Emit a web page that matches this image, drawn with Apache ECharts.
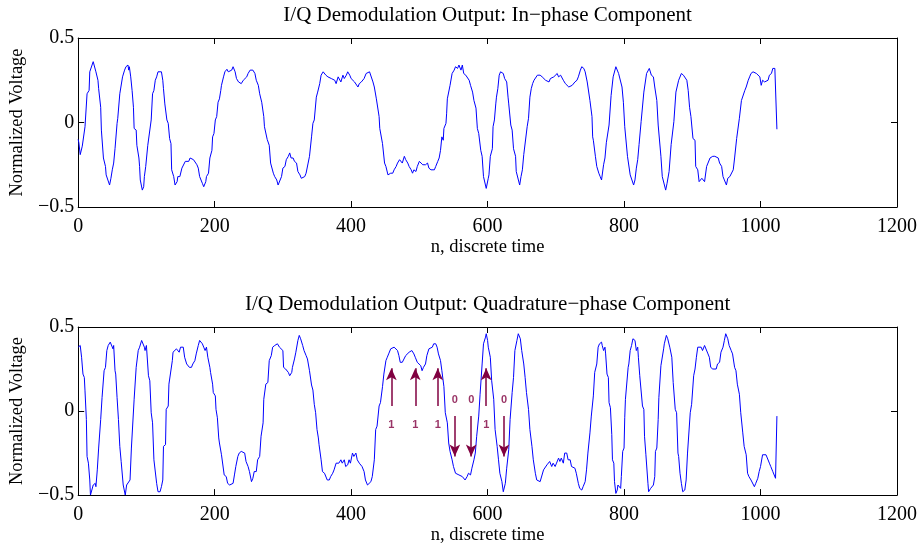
<!DOCTYPE html>
<html>
<head>
<meta charset="utf-8">
<script src="https://cdn.jsdelivr.net/npm/echarts@6/dist/echarts.min.js"></script>
<style>
  html, body { margin: 0; padding: 0; background: #fff; }
  #chart { width: 922px; height: 546px; }
</style>
</head>
<body>
<div id="chart"></div>
<script>
// In-phase branch output, [n, normalized voltage]
const inphase = [
[0,-0.10],[1,-0.12],[3,-0.19],[6,-0.14],[10,-0.025],[13,0.17],[16,0.19],[17,0.30],[19,0.31],[22,0.36],[24,0.35],[26,0.30],[29,0.25],[30,0.20],[33,0.09],[34,-0.045],[37,-0.21],[40,-0.26],[41,-0.31],[43,-0.32],[46,-0.37],[48,-0.33],[50,-0.28],[52,-0.24],[54,-0.155],[57,-0.005],[58,0.025],[61,0.17],[63,0.18],[65,0.27],[68,0.31],[70,0.33],[73,0.34],[74,0.31],[75,0.33],[77,0.27],[79,0.19],[81,0.09],[82,-0.035],[85,-0.045],[86,-0.135],[89,-0.21],[90,-0.26],[91,-0.34],[92,-0.35],[94,-0.40],[96,-0.38],[97,-0.32],[99,-0.26],[102,-0.135],[104,-0.125],[107,0.015],[108,0.025],[109,0.17],[111,0.19],[113,0.25],[115,0.27],[117,0.30],[119,0.31],[122,0.30],[124,0.25],[125,0.20],[127,0.11],[130,0.015],[132,-0.005],[134,-0.095],[136,-0.125],[137,-0.28],[140,-0.32],[142,-0.37],[145,-0.35],[146,-0.32],[148,-0.33],[149,-0.32],[152,-0.27],[154,-0.26],[157,-0.23],[159,-0.22],[162,-0.23],[164,-0.21],[166,-0.20],[169,-0.22],[171,-0.23],[174,-0.25],[176,-0.27],[178,-0.32],[180,-0.33],[182,-0.36],[184,-0.38],[187,-0.35],[188,-0.32],[191,-0.30],[193,-0.21],[196,-0.165],[197,-0.085],[199,-0.065],[201,0.015],[203,0.035],[205,0.12],[207,0.14],[209,0.19],[210,0.22],[213,0.27],[215,0.30],[218,0.315],[220,0.30],[222,0.31],[225,0.31],[227,0.33],[230,0.30],[232,0.26],[235,0.24],[237,0.25],[239,0.23],[242,0.25],[244,0.26],[247,0.27],[249,0.29],[252,0.31],[254,0.30],
[256,0.31],[259,0.29],[261,0.25],[264,0.22],[266,0.17],[269,0.12],[271,0.11],[272,0.035],[273,-0.025],[275,-0.035],[277,-0.10],[280,-0.135],[282,-0.24],[283,-0.25],[286,-0.30],[288,-0.32],[291,-0.34],[293,-0.37],[295,-0.36],[298,-0.32],[300,-0.27],[303,-0.26],[305,-0.22],[308,-0.20],[310,-0.18],[312,-0.21],[315,-0.21],[317,-0.23],[320,-0.24],[322,-0.29],[325,-0.31],[327,-0.33],[329,-0.33],[332,-0.32],[334,-0.30],[337,-0.24],[339,-0.20],[342,-0.085],[344,-0.005],[346,0.015],[349,0.15],[351,0.18],[354,0.23],[356,0.28],[359,0.30],[361,0.29],[363,0.28],[366,0.27],[368,0.27],[371,0.26],[373,0.26],[376,0.25],[378,0.23],[381,0.27],[383,0.26],[385,0.24],[388,0.28],[390,0.26],[393,0.28],[395,0.30],[398,0.28],[400,0.26],[402,0.25],[405,0.24],[407,0.23],[410,0.21],[412,0.23],[415,0.24],[417,0.24],[419,0.26],[422,0.29],[424,0.30],[427,0.30],[429,0.29],[432,0.24],[434,0.21],[437,0.14],[439,0.13],[441,0.035],[442,-0.035],[444,-0.045],[446,-0.125],[449,-0.24],[451,-0.26],[454,-0.31],[456,-0.31],[458,-0.30],[461,-0.30],[463,-0.28],[466,-0.26],[468,-0.24],[471,-0.22],[473,-0.23],[475,-0.24],[478,-0.20],[480,-0.22],[483,-0.24],[485,-0.26],[488,-0.28],[490,-0.30],[492,-0.28],[495,-0.29],[497,-0.26],[500,-0.23],[502,-0.24],[505,-0.25],[507,-0.24],[509,-0.25],
[510,-0.25],[512,-0.24],[514,-0.27],[517,-0.28],[519,-0.29],[522,-0.28],[524,-0.26],[527,-0.23],[529,-0.21],[531,-0.165],[533,-0.085],[535,-0.105],[536,-0.035],[539,-0.005],[540,0.055],[541,0.14],[543,0.14],[545,0.22],[547,0.23],[548,0.29],[551,0.31],[553,0.33],[556,0.32],[558,0.34],[561,0.31],[563,0.34],[565,0.29],[568,0.28],[570,0.27],[573,0.25],[575,0.22],[578,0.18],[580,0.13],[583,0.085],[585,-0.035],[587,-0.065],[590,-0.165],[592,-0.20],[594,-0.32],[596,-0.33],[598,-0.39],[601,-0.33],[602,-0.31],[604,-0.20],[607,-0.155],[608,-0.025],[610,0.015],[612,0.11],[613,0.15],[615,0.20],[617,0.28],[619,0.30],[621,0.31],[623,0.29],[625,0.26],[628,0.24],[630,0.15],[631,0.11],[634,-0.015],[636,-0.045],[638,-0.155],[641,-0.20],[642,-0.29],[644,-0.30],[647,-0.37],[649,-0.32],[651,-0.28],[653,-0.19],[655,-0.18],[658,-0.025],[660,0.025],[662,0.15],[664,0.20],[666,0.23],[668,0.25],[670,0.26],[673,0.28],[675,0.29],[677,0.28],[680,0.27],[682,0.26],[685,0.25],[687,0.26],[690,0.24],[692,0.26],[694,0.25],[697,0.27],[699,0.28],[702,0.29],[704,0.27],[707,0.28],[709,0.27],[711,0.25],[714,0.23],[716,0.22],[719,0.21],[721,0.21],[724,0.22],[726,0.23],[728,0.24],[731,0.25],[733,0.27],[736,0.31],[738,0.33],[741,0.32],[743,0.30],[746,0.24],[748,0.23],[750,0.13],[753,0.035],[754,-0.085],[755,-0.105],[758,-0.20],[760,-0.26],[763,-0.30],[765,-0.32],
[767,-0.34],[770,-0.25],[772,-0.21],[774,-0.12],[776,-0.13],[778,-0.015],[780,-0.025],[781,0.16],[783,0.15],[784,0.27],[786,0.27],[788,0.33],[790,0.34],[792,0.29],[794,0.28],[797,0.21],[799,0.12],[801,-0.025],[803,-0.025],[805,-0.20],[807,-0.21],[809,-0.31],[811,-0.32],[814,-0.37],[816,-0.34],[818,-0.27],[820,-0.22],[822,-0.13],[823,-0.13],[825,0.005],[827,0.015],[829,0.18],[831,0.18],[833,0.29],[835,0.30],[837,0.32],[839,0.32],[840,0.28],[843,0.27],[845,0.21],[848,0.13],[850,-0.015],[852,-0.025],[854,-0.20],[855,-0.21],[856,-0.32],[858,-0.33],[861,-0.40],[863,-0.36],[866,-0.29],[869,-0.13],[871,-0.12],[873,0.005],[874,0.015],[876,0.18],[878,0.19],[880,0.25],[882,0.26],[884,0.29],[887,0.28],[889,0.27],[892,0.25],[894,0.19],[896,0.09],[898,0.035],[900,0.025],[901,-0.095],[904,-0.105],[905,-0.26],[908,-0.28],[910,-0.35],[912,-0.34],[914,-0.33],[916,-0.33],[918,-0.35],[921,-0.26],[923,-0.24],[926,-0.21],[928,-0.21],[930,-0.20],[933,-0.20],[935,-0.19],[938,-0.21],[940,-0.24],[943,-0.26],[945,-0.32],[947,-0.34],[950,-0.37],[952,-0.33],[955,-0.32],[957,-0.31],[960,-0.28],[962,-0.21],[965,-0.095],[967,-0.085],[969,0.025],[972,0.13],[974,0.12],[977,0.19],[979,0.21],[982,0.25],[984,0.27],[986,0.29],[989,0.30],[991,0.31],[994,0.29],[996,0.30],[999,0.27],[1001,0.22],[1003,0.25],[1006,0.24],[1008,0.23],[1011,0.25],[1013,0.28],[1016,0.29],[1018,0.32],[1021,0.32],[1022,0.33],[1024,-0.04]
];

// Quadrature branch output, [n, normalized voltage]
const quadrature = [
[0,0.38],[3,0.39],[5,0.32],[7,0.22],[9,0.20],[10,0.12],[12,-0.05],[13,-0.27],[15,-0.31],[17,-0.41],[18,-0.50],[20,-0.50],[22,-0.44],[25,-0.43],[26,-0.45],[28,-0.35],[30,-0.22],[32,-0.21],[33,-0.05],[35,0.08],[37,0.09],[38,0.24],[40,0.26],[42,0.36],[44,0.39],[47,0.41],[49,0.40],[51,0.37],[52,0.39],[54,0.24],[55,0.22],[57,0.08],[59,-0.05],[61,-0.21],[63,-0.30],[65,-0.31],[66,-0.44],[69,-0.50],[71,-0.44],[73,-0.43],[76,-0.41],[78,-0.22],[80,-0.21],[82,0.07],[83,0.08],[85,0.26],[86,0.27],[88,0.36],[90,0.38],[93,0.42],[95,0.43],[97,0.38],[98,0.36],[100,0.39],[103,0.21],[105,0.18],[107,-0.01],[109,-0.07],[111,-0.29],[112,-0.29],[115,-0.43],[117,-0.48],[120,-0.48],[122,-0.45],[124,-0.41],[125,-0.21],[128,-0.20],[129,0.01],[132,0.03],[133,0.16],[135,0.17],[138,0.30],[139,0.35],[141,0.36],[144,0.37],[146,0.38],[148,0.35],[150,0.38],[151,0.39],[154,0.38],[156,0.32],[159,0.28],[161,0.28],[163,0.26],[166,0.26],[168,0.28],[171,0.30],[173,0.34],[176,0.39],[178,0.42],[180,0.43],[182,0.40],[184,0.38],[186,0.36],[188,0.38],[190,0.32],[193,0.26],[194,0.23],[197,0.16],[198,0.11],[201,0.09],[202,0.01],[204,-0.04],[206,-0.16],[207,-0.19],[210,-0.26],[212,-0.27],[214,-0.38],[217,-0.39],[219,-0.43],[222,-0.44],[224,-0.45],[227,-0.43],[229,-0.38],[231,-0.33],[232,-0.32],[234,-0.27],[236,-0.25],[239,-0.24],[241,-0.24],[244,-0.25],[246,-0.30],[249,-0.33],[251,-0.36],[254,-0.42],[256,-0.40],
[258,-0.36],[261,-0.36],[263,-0.29],[266,-0.27],[268,-0.15],[271,-0.07],[272,0.07],[274,0.08],[275,0.16],[278,0.17],[280,0.30],[283,0.33],[285,0.38],[288,0.39],[290,0.38],[292,0.40],[295,0.38],[297,0.38],[300,0.36],[301,0.26],[304,0.25],[306,0.24],[308,0.23],[310,0.21],[313,0.23],[314,0.26],[317,0.31],[319,0.35],[322,0.42],[324,0.45],[326,0.43],[329,0.39],[331,0.36],[334,0.33],[336,0.31],[339,0.24],[340,0.23],[342,0.155],[344,0.125],[346,0.04],[348,-0.01],[350,-0.11],[352,-0.16],[353,-0.20],[356,-0.29],[358,-0.36],[361,-0.37],[363,-0.38],[365,-0.41],[368,-0.41],[370,-0.39],[373,-0.37],[375,-0.35],[378,-0.31],[380,-0.30],[382,-0.31],[385,-0.29],[387,-0.31],[390,-0.29],[392,-0.33],[395,-0.32],[397,-0.29],[399,-0.31],[402,-0.25],[404,-0.27],[407,-0.25],[409,-0.29],[412,-0.31],[414,-0.32],[416,-0.33],[419,-0.36],[421,-0.41],[424,-0.44],[426,-0.43],[429,-0.42],[431,-0.39],[434,-0.29],[436,-0.11],[438,-0.09],[441,0.03],[443,0.05],[446,0.145],[448,0.22],[451,0.30],[453,0.32],[455,0.34],[458,0.37],[460,0.36],[463,0.38],[465,0.39],[468,0.36],[470,0.33],[472,0.29],[475,0.29],[477,0.30],[480,0.33],[482,0.34],[485,0.35],[487,0.35],[489,0.36],[492,0.34],[494,0.32],[497,0.29],[499,0.28],[502,0.27],[504,0.24],[506,0.26],[509,0.28],
[511,0.33],[514,0.37],[516,0.37],[519,0.38],[521,0.40],[524,0.40],[526,0.38],[528,0.34],[531,0.30],[533,0.24],[536,0.145],[538,-0.01],[541,-0.07],[543,-0.19],[545,-0.24],[548,-0.29],[550,-0.33],[553,-0.37],[555,-0.36],[558,-0.38],[560,-0.37],[563,-0.39],[565,-0.39],[567,-0.41],[570,-0.39],[572,-0.37],[575,-0.38],[577,-0.34],[580,-0.29],[582,-0.25],[584,-0.15],[587,-0.03],[589,0.10],[592,0.28],[594,0.40],[597,0.44],[598,0.46],[600,0.42],[601,0.38],[604,0.32],[606,0.18],[609,0.07],[611,-0.11],[614,-0.21],[616,-0.29],[618,-0.37],[621,-0.42],[623,-0.48],[626,-0.43],[628,-0.34],[631,-0.23],[633,-0.05],[636,0.11],[638,0.20],[640,0.36],[643,0.42],[645,0.46],[648,0.43],[650,0.36],[653,0.28],[655,0.20],[657,0.11],[660,0.01],[662,-0.11],[665,-0.21],[667,-0.29],[670,-0.37],[672,-0.41],[674,-0.42],[677,-0.42],[679,-0.41],[682,-0.35],[684,-0.35],[687,-0.32],[689,-0.31],[691,-0.30],[694,-0.33],[696,-0.31],[699,-0.33],[701,-0.31],[704,-0.28],[706,-0.30],[708,-0.28],[711,-0.31],[713,-0.25],[716,-0.25],[718,-0.29],[721,-0.29],[723,-0.33],[725,-0.32],[728,-0.34],[730,-0.37],[733,-0.43],[735,-0.46],[738,-0.47],[740,-0.45],[743,-0.42],[745,-0.35],[747,-0.25],[750,-0.13],[752,-0.03],[755,0.09],[757,0.23],[760,0.28],[762,0.38],[764,0.40],[767,0.41],
[768,0.39],[770,0.36],[772,0.38],[773,0.34],[775,0.22],[777,0.20],[778,0.05],[780,0.02],[782,-0.14],[783,-0.29],[785,-0.31],[786,-0.42],[788,-0.49],[790,-0.47],[791,-0.44],[793,-0.43],[795,-0.46],[796,-0.39],[798,-0.24],[800,-0.22],[801,-0.04],[802,0.07],[804,0.08],[806,0.26],[807,0.28],[809,0.36],[811,0.39],[813,0.43],[816,0.42],[818,0.36],[820,0.38],[821,0.32],[823,0.21],[825,0.20],[827,0.03],[829,0.01],[830,-0.15],[832,-0.26],[834,-0.27],[835,-0.43],[836,-0.48],[839,-0.46],[841,-0.45],[843,-0.44],[845,-0.39],[846,-0.24],[848,-0.22],[850,-0.05],[851,0.08],[853,0.09],[854,0.27],[856,0.28],[858,0.37],[859,0.40],[862,0.45],[864,0.43],[867,0.38],[868,0.39],[870,0.32],[872,0.17],[874,0.16],[875,0.01],[877,-0.01],[879,-0.25],[880,-0.27],[882,-0.37],[884,-0.43],[886,-0.48],[889,-0.47],[891,-0.41],[893,-0.25],[895,-0.24],[897,-0.01],[899,0.04],[902,0.21],[904,0.25],[906,0.32],[908,0.38],[910,0.37],[913,0.38],[915,0.36],[918,0.39],[920,0.39],[923,0.34],[925,0.32],[927,0.26],[930,0.25],[932,0.26],[935,0.25],[937,0.28],[940,0.29],[942,0.35],[945,0.38],[947,0.42],[949,0.46],[952,0.43],[954,0.39],[957,0.36],[959,0.34],[962,0.26],[964,0.24],[966,0.16],[969,0.10],[971,-0.01],[974,-0.13],[976,-0.21],[979,-0.26],[981,-0.37],[983,-0.39],[986,-0.41],[988,-0.42],[991,-0.45],[993,-0.43],[996,-0.40],[998,-0.36],[1000,-0.33],[1003,-0.26],[1005,-0.25],[1008,-0.26],[1010,-0.26],[1013,-0.31],[1015,-0.33],[1018,-0.36],[1020,-0.35],[1022,-0.40],[1023,-0.41],[1024,-0.03]
];

// Decoded bit markers on the quadrature trace
const bitN    = [459, 494, 527, 552, 576, 598, 624];
const bitVals = [1, 1, 1, 0, 0, 1, 0];
const arrowFrom  = { 1: 0.03, 0: -0.03 };
const arrowTo    = { 1: 0.255, 0: -0.27 };
const bitLabelAt = { 1: -0.085, 0: 0.065 };

// Axis settings
const xTicks = { min: 0, max: 1200, interval: 200 };
const yTicks = { min: -0.5, max: 0.5, interval: 0.5 };
const titles = [
  'I/Q Demodulation Output: In\u2212phase Component',
  'I/Q Demodulation Output: Quadrature\u2212phase Component'
];
const xName = 'n, discrete time';
const yName = 'Normalized Voltage';

const serif = "'Liberation Serif', 'Times New Roman', Times, serif";
const ink = '#000';
const markColor = '#800040';

const axisLine = { show: true, onZero: false, lineStyle: { color: ink, width: 1 } };
const tick = { show: true, inside: true, length: 6, lineStyle: { color: ink, width: 1 } };

function xAxes(gridIndex, title) {
  return [
    Object.assign({
      type: 'value', gridIndex, position: 'bottom',
      axisLine, axisTick: tick, splitLine: { show: false },
      axisLabel: {
        color: ink, fontFamily: serif, fontSize: 20, margin: 10,
        formatter: v => String(v)
      },
      name: xName, nameLocation: 'middle', nameGap: 26,
      nameTextStyle: { color: ink, fontFamily: serif, fontSize: 18.5 }
    }, xTicks),
    Object.assign({
      type: 'value', gridIndex, position: 'top',
      axisLine, axisTick: tick, splitLine: { show: false },
      axisLabel: { show: false },
      name: title, nameLocation: 'middle', nameGap: 12,
      nameTextStyle: { color: ink, fontFamily: serif, fontSize: 21 }
    }, xTicks)
  ];
}

function yAxes(gridIndex) {
  return [
    Object.assign({
      type: 'value', gridIndex, position: 'left',
      axisLine, axisTick: tick, splitLine: { show: false },
      axisLabel: {
        color: ink, fontFamily: serif, fontSize: 20, margin: 4,
        formatter: v => String(v).replace('-', '\u2212')
      },
      name: yName, nameLocation: 'middle', nameGap: 45, nameRotate: 90,
      nameTextStyle: { color: ink, fontFamily: serif, fontSize: 18.5 }
    }, yTicks),
    Object.assign({
      type: 'value', gridIndex, position: 'right',
      axisLine, axisTick: tick, splitLine: { show: false },
      axisLabel: { show: false }
    }, yTicks)
  ];
}

const lineStyle = { color: '#0000ff', width: 1 };

const arrowLines = bitN.map((n, i) => {
  const b = bitVals[i];
  return [{ coord: [n, arrowFrom[b]] }, { coord: [n, arrowTo[b]] }];
});
const bitLabels = bitN.map((n, i) => ({ value: [n, bitLabelAt[bitVals[i]]], bit: bitVals[i] }));

const chart = echarts.init(document.getElementById('chart'), null, { renderer: 'canvas' });
chart.setOption({
  backgroundColor: '#fff',
  animation: false,
  grid: [
    { left: 76, right: 25, top: 38, height: 169 },
    { left: 76, right: 25, top: 327, height: 169 }
  ],
  xAxis: [...xAxes(0, titles[0]), ...xAxes(1, titles[1])],
  yAxis: [...yAxes(0), ...yAxes(1)],
  series: [
    {
      type: 'line', xAxisIndex: 0, yAxisIndex: 0, data: inphase,
      showSymbol: false, lineStyle, silent: true
    },
    {
      type: 'line', xAxisIndex: 2, yAxisIndex: 2, data: quadrature,
      showSymbol: false, lineStyle, silent: true,
      markLine: {
        silent: true, animation: false,
        symbol: ['none', 'arrow'], symbolSize: [8, 12],
        lineStyle: { color: markColor, width: 1.5, type: 'solid' },
        label: { show: false },
        emphasis: { disabled: true },
        data: arrowLines
      }
    },
    {
      type: 'scatter', xAxisIndex: 2, yAxisIndex: 2, data: bitLabels,
      symbolSize: 0, silent: true,
      label: {
        show: true, position: 'inside', color: markColor,
        fontFamily: "'Liberation Sans', Arial, sans-serif", fontWeight: 'bold', fontSize: 11,
        formatter: p => String(p.data.bit)
      }
    }
  ]
});
</script>
</body>
</html>
